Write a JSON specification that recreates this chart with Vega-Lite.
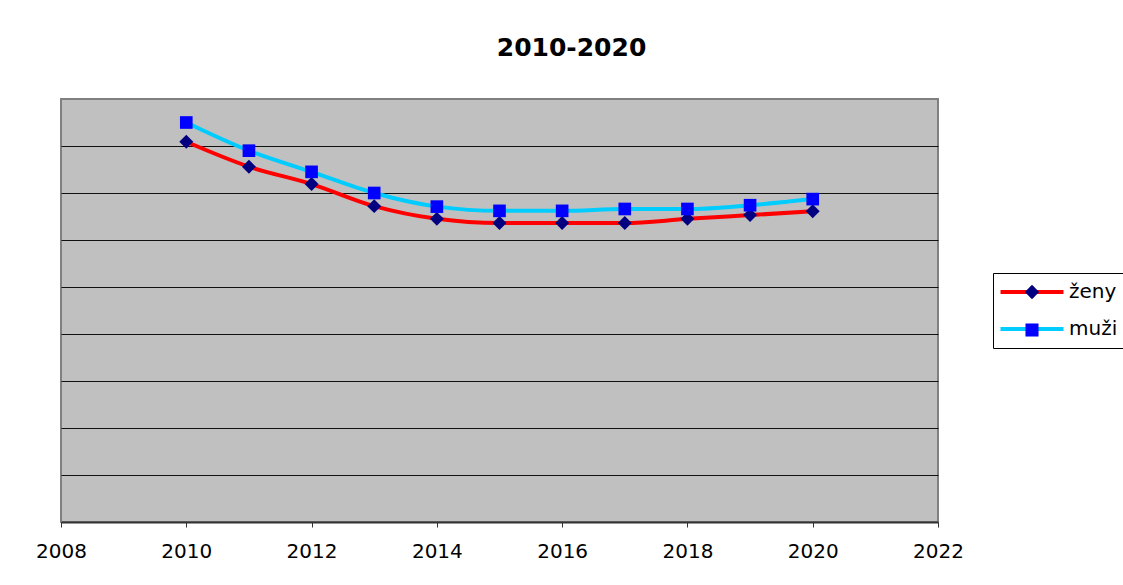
{
  "$schema": "https://vega.github.io/schema/vega-lite/v6.json",
  "autosize": "none",
  "width": 877,
  "height": 423,
  "padding": {"left": 61, "top": 99, "right": 185, "bottom": 63},
  "background": "white",
  "config": {
    "font": "DejaVu Sans",
    "view": {"fill": "#C0C0C0", "stroke": "#808080", "strokeWidth": 2}
  },
  "title": {
    "text": "2010-2020",
    "fontSize": 25,
    "fontWeight": "bold",
    "font": "DejaVu Sans",
    "color": "black",
    "anchor": "middle",
    "dx": 72,
    "offset": 38
  },
  "data": {
    "values": [
      {"year": 2010, "series": "ženy", "value": 8.09},
      {"year": 2011, "series": "ženy", "value": 7.56},
      {"year": 2012, "series": "ženy", "value": 7.19},
      {"year": 2013, "series": "ženy", "value": 6.72},
      {"year": 2014, "series": "ženy", "value": 6.45},
      {"year": 2015, "series": "ženy", "value": 6.36},
      {"year": 2016, "series": "ženy", "value": 6.36},
      {"year": 2017, "series": "ženy", "value": 6.36},
      {"year": 2018, "series": "ženy", "value": 6.45},
      {"year": 2019, "series": "ženy", "value": 6.53},
      {"year": 2020, "series": "ženy", "value": 6.61},
      {"year": 2010, "series": "muži", "value": 8.50},
      {"year": 2011, "series": "muži", "value": 7.90},
      {"year": 2012, "series": "muži", "value": 7.45},
      {"year": 2013, "series": "muži", "value": 7.00},
      {"year": 2014, "series": "muži", "value": 6.71},
      {"year": 2015, "series": "muži", "value": 6.62},
      {"year": 2016, "series": "muži", "value": 6.62},
      {"year": 2017, "series": "muži", "value": 6.66},
      {"year": 2018, "series": "muži", "value": 6.66},
      {"year": 2019, "series": "muži", "value": 6.74},
      {"year": 2020, "series": "muži", "value": 6.87}
    ]
  },
  "encoding": {
    "x": {
      "field": "year",
      "type": "quantitative",
      "scale": {"domain": [2008, 2022], "nice": false, "zero": false},
      "axis": {
        "title": null,
        "values": [2008, 2010, 2012, 2014, 2016, 2018, 2020, 2022],
        "format": "d",
        "grid": false,
        "labelFlush": false,
        "domainColor": "#333333",
        "domainWidth": 2,
        "tickColor": "#333333",
        "tickSize": 5,
        "tickWidth": 1,
        "labelFontSize": 20,
        "labelColor": "black",
        "labelPadding": 14,
        "labelFont": "DejaVu Sans"
      }
    },
    "y": {
      "field": "value",
      "type": "quantitative",
      "scale": {"domain": [0, 9], "nice": false},
      "axis": {
        "title": null,
        "values": [1, 2, 3, 4, 5, 6, 7, 8],
        "labels": false,
        "ticks": false,
        "domain": false,
        "grid": true,
        "gridColor": "#111111",
        "gridWidth": 1.2,
        "gridOpacity": 1
      }
    }
  },
  "layer": [
    {
      "mark": {"type": "line", "interpolate": "monotone", "strokeWidth": 4},
      "encoding": {
        "stroke": {
          "field": "series",
          "type": "nominal",
          "sort": ["ženy", "muži"],
          "scale": {"range": ["#FF0000", "#00CCFF"]},
          "legend": {
            "title": null,
            "orient": "none",
            "legendX": 932,
            "legendY": 174,
            "symbolType": "M-4.83,0H4.83",
            "symbolSize": 170,
            "symbolStrokeWidth": 4,
            "symbolOffset": 20,
            "labelFontSize": 20,
            "labelFont": "DejaVu Sans",
            "labelColor": "black",
            "labelOffset": 27,
            "rowPadding": 17,
            "padding": 9,
            "fillColor": "white",
            "strokeColor": "black",
            "zindex": 0
          }
        }
      }
    },
    {
      "mark": {"type": "point", "filled": true, "opacity": 1, "size": 160},
      "encoding": {
        "fill": {
          "field": "series",
          "type": "nominal",
          "scale": {"domain": ["ženy", "muži"], "range": ["#000080", "#0000FF"]},
          "legend": {
            "title": null,
            "orient": "none",
            "legendX": 932,
            "legendY": 174,
            "symbolSize": 170,
            "symbolOpacity": 1,
            "symbolOffset": 20,
            "labelFontSize": 20,
            "labelFont": "DejaVu Sans",
            "labelColor": "transparent",
            "labelOffset": 27,
            "rowPadding": 17,
            "padding": 9,
            "zindex": 1
          }
        },
        "shape": {
          "field": "series",
          "type": "nominal",
          "scale": {"domain": ["ženy", "muži"], "range": ["M-1.1,0L0,-1.1L1.1,0L0,1.1Z", "square"]}
        }
      }
    }
  ]
}
